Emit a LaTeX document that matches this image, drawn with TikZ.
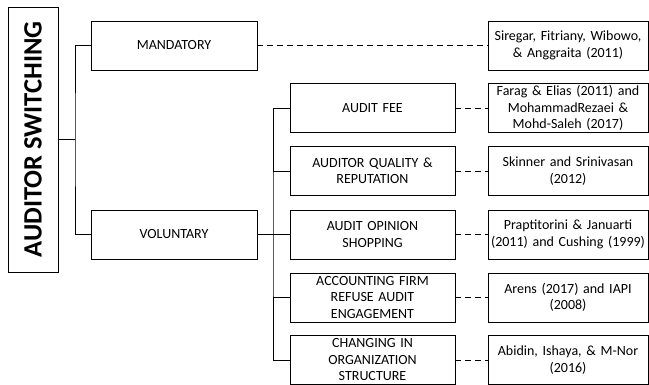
\documentclass[tikz,border=0pt]{standalone}
\usepackage{fontspec}
\setmainfont{Carlito}
\tikzset{
  box/.style={draw, line width=0.8pt, minimum width=166pt, minimum height=49pt, inner sep=1pt, align=center, font=\fontsize{14}{16.5}\selectfont},
  sub/.style={box, minimum width=165pt, text width=162pt},
  ref/.style={box, minimum width=160pt, text width=158pt},
  link/.style={line width=0.8pt},
  refline/.style={line width=0.8pt, dash pattern=on 6pt off 4pt}
}
\begin{document}
\begin{tikzpicture}[x=1pt, y=-1pt]
	\useasboundingbox (0, 0) rectangle (649, 385);
	% title
	\node[draw, line width=0.8pt, minimum width=50pt, minimum height=265pt, inner sep=0pt] (title) at (33, 139.5) {};
	\node[rotate=90, font=\fontsize{26.5}{30}\selectfont\bfseries] (titletext) at (title.center) {AUDITOR SWITCHING};
	% first level
	\node[box] (mand) at (174, 45.5) {MANDATORY};
	\node[box] (vol) at (174, 234.5) {VOLUNTARY};
	% voluntary reasons
	\node[sub] (fee) at (372.5, 108) {AUDIT FEE};
	\node[sub] (quality) at (372.5, 171) {AUDITOR QUALITY \&\\REPUTATION};
	\node[sub] (opinion) at (372.5, 234.5) {AUDIT OPINION\\SHOPPING};
	\node[sub] (refuse) at (372.5, 297.5) {ACCOUNTING FIRM\\REFUSE AUDIT\\ENGAGEMENT};
	\node[sub] (change) at (372.5, 360) {CHANGING IN\\ORGANIZATION\\STRUCTURE};
	% references
	\node[ref] (rmand) at (568, 45.5) {Siregar, Fitriany, Wibowo,\\\& Anggraita (2011)};
	\node[ref] (rfee) at (568, 108) {Farag \& Elias (2011) and\\MohammadRezaei \&\\Mohd-Saleh (2017)};
	\node[ref] (rquality) at (568, 171) {Skinner and Srinivasan\\(2012)};
	\node[ref] (ropinion) at (568, 234.5) {Praptitorini \& Januarti\\(2011) and Cushing (1999)};
	\node[ref] (rrefuse) at (568, 297.5) {Arens (2017) and IAPI\\(2008)};
	\node[ref] (rchange) at (568, 360) {Abidin, Ishaya, \& M-Nor\\(2016)};
	% tree lines
	\coordinate (trunk) at (75, 139.5);
	\coordinate (branch) at (273, 234.5);
	\draw[link] (title.east) -- (trunk);
	\draw[link] (mand.west) -| (trunk) |- (vol.west);
	\draw[link] (vol.east) -- (opinion.west);
	\draw[link] (fee.west) -| (branch) |- (change.west);
	\draw[link] (quality.west) -- (quality.west -| branch);
	\draw[link] (refuse.west) -- (refuse.west -| branch);
	% dashed links to references
	\draw[refline] (mand.east) -- (rmand.west);
	\draw[refline] (fee.east) -- (rfee.west);
	\draw[refline] (quality.east) -- (rquality.west);
	\draw[refline] (opinion.east) -- (ropinion.west);
	\draw[refline] (refuse.east) -- (rrefuse.west);
	\draw[refline] (change.east) -- (rchange.west);
\end{tikzpicture}
\end{document}
